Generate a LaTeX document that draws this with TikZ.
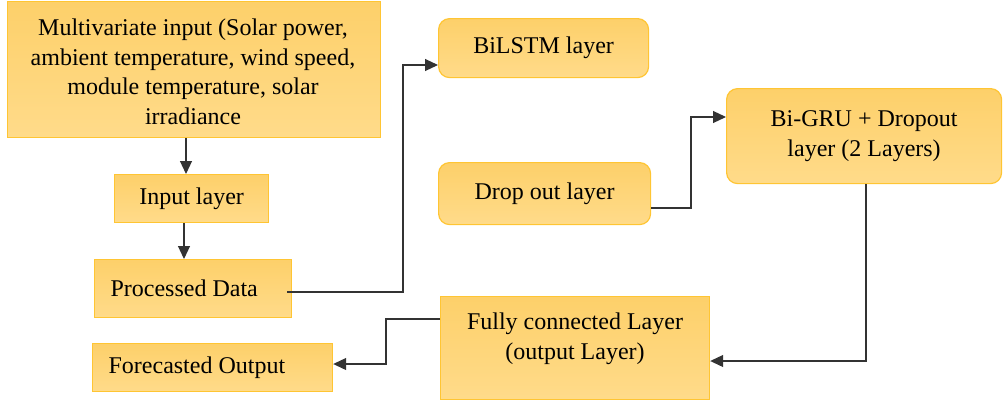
\documentclass[tikz,border=0pt]{standalone}
\usepackage{fontspec}
\setmainfont{Liberation Serif}
\usetikzlibrary{arrows.meta}
\definecolor{boxtop}{HTML}{FDD06A}
\definecolor{boxbot}{HTML}{FFDB8A}
\definecolor{boxline}{HTML}{FFC533}
\definecolor{wire}{HTML}{333333}
\begin{document}
\begin{tikzpicture}[x=1pt,y=-1pt,
  every node/.style={font=\fontsize{24}{29.5}\selectfont, text=black},
  layerbox/.style={draw=boxline, line width=1.2pt, top color=boxtop, bottom color=boxbot,
    inner sep=0pt, anchor=north west},
  roundbox/.style={layerbox, rounded corners=11pt},
  flow/.style={draw=wire, line width=1.1pt, -{Triangle[length=13pt,width=12pt]}},
  label/.style={align=center, inner sep=0pt}]
\useasboundingbox (0,0) rectangle (1003,405);

% input branch
\node[layerbox, minimum width=373pt, minimum height=136pt] (multi) at (7,1) {};
\node[label] (multitext) at (193,72)
  {Multivariate input (Solar power,\\ambient temperature, wind speed,\\module temperature, solar\\irradiance};
\node[layerbox, minimum width=154pt, minimum height=48pt] (inp) at (114,174) {Input layer};
\node[layerbox, minimum width=195pt, minimum height=58pt, text width=165pt, align=flush left,
  inner xsep=16pt] (proc) at (94,259) {Processed Data};
\node[layerbox, minimum width=240pt, minimum height=48pt, text width=208pt, align=flush left,
  inner xsep=16pt] (fore) at (92,343) {Forecasted Output};

% recurrent layers
\node[roundbox, minimum width=210pt, minimum height=59pt] (lstm) at (438,18) {BiLSTM layer};
\node[roundbox, minimum width=212pt, minimum height=62pt] (drop) at (438,162) {Drop out layer};
\node[roundbox, minimum width=275pt, minimum height=95pt, align=center] (gru) at (726,88)
  {Bi-GRU + Dropout\\layer (2 Layers)};

% output layer
\node[layerbox, minimum width=269pt, minimum height=103pt] (fc) at (440,296) {};
\node[label] (fctext) at (575,339) {Fully connected Layer\\(output Layer)};

% connectors
\coordinate (procout) at (287,292);
\draw[flow] (multi.south -| 186,0) -- (186,174);
\draw[flow] (inp.south -| 184,0) -- (184,259);
\draw[flow] (procout) -| (403,65) -- (lstm.west |- 0,65);
\draw[flow] (drop.east |- 0,208) -| (691,117) -- (gru.west |- 0,117);
\draw[flow] (gru.south -| 866,0) |- (fc.east |- 0,361);
\draw[flow] (fc.west |- 0,319) -| (386,364) -- (fore.east |- 0,364);
\end{tikzpicture}
\end{document}
